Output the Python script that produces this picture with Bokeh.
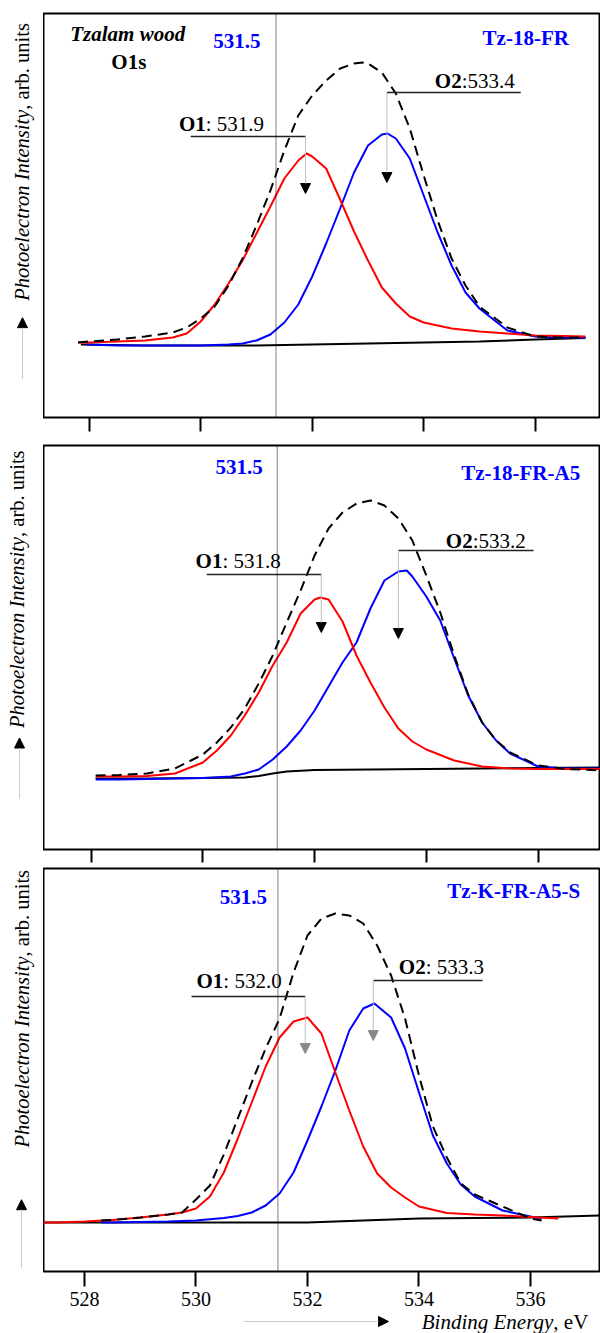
import math
from bokeh.plotting import figure
from bokeh.models import Label, Arrow, NormalHead, Span, FixedTicker, Range1d
from bokeh.layouts import column, row
from bokeh.embed import file_html
from bokeh.resources import INLINE

FONT = "Liberation Serif"
TICKS = [528, 530, 532, 534, 536]
REF_LINE = "531.5"
Y_TITLE = ("Photoelectron Intensity", ", arb. units")
X_TITLE = ("Binding Energy", ", eV")

# ---------------- Panel 1 : Tz-18-FR ----------------
p1_name = "Tz-18-FR"
p1_red_E = [527.8, 528.0, 528.5, 529.0, 529.5, 529.75, 530.0, 530.25, 530.5, 530.75, 531.0, 531.25, 531.5, 531.75, 531.9, 532.0, 532.25, 532.5, 532.75, 533.0, 533.25, 533.5, 533.75, 534.0, 534.5, 535.0, 535.5, 536.0, 536.5, 536.9]
p1_red_I = [75, 75, 76, 77, 80, 84, 96, 113, 134, 157, 184, 211, 239, 257, 264, 261, 249, 218, 186, 157, 130, 114, 101, 95, 89, 86, 84, 82, 81.5, 81]
p1_blue_E = [527.95, 528.5, 529.0, 529.5, 530.0, 530.5, 530.75, 531.0, 531.25, 531.5, 531.75, 532.0, 532.25, 532.5, 532.75, 533.0, 533.25, 533.35, 533.5, 533.75, 534.0, 534.25, 534.5, 534.75, 535.0, 535.5, 536.0, 536.5, 536.9]
p1_blue_I = [73, 72, 72, 72, 72, 73, 74, 77, 83, 95, 113, 141, 174, 209, 245, 272, 283, 284, 279, 259, 222, 185, 152, 125, 109, 87, 81, 80, 80]
p1_env_E = [527.8, 528.0, 528.5, 529.0, 529.5, 529.75, 530.0, 530.25, 530.5, 530.75, 531.0, 531.25, 531.5, 531.75, 532.0, 532.25, 532.5, 532.75, 532.9, 533.0, 533.25, 533.5, 533.75, 534.0, 534.25, 534.5, 534.75, 535.0, 535.5, 536.0, 536.5, 536.9]
p1_env_I = [75, 76, 78, 81, 85, 90, 99, 111, 132, 159, 192, 227, 267, 302, 322, 337, 349, 354, 355, 354, 345, 324, 289, 242, 197, 159, 132, 111, 90, 81, 80, 80]
p1_base_E = [527.85, 529.0, 530.0, 531.0, 532.0, 533.0, 534.0, 535.0, 536.0, 536.9]
p1_base_I = [73, 72, 72, 72, 73, 74, 75, 76, 78, 79.5]
p1_O1 = "531.9"
p1_O2 = "533.4"

# ---------------- Panel 2 : Tz-18-FR-A5 ----------------
p2_name = "Tz-18-FR-A5"
p2_red_E = [528.08, 528.5, 529.0, 529.5, 530.0, 530.25, 530.5, 530.75, 531.0, 531.25, 531.5, 531.75, 532.0, 532.1, 532.25, 532.5, 532.75, 533.0, 533.25, 533.5, 533.75, 534.0, 534.5, 535.0, 535.5, 536.0, 536.5, 537.2]
p2_red_I = [73, 73, 73.5, 76, 87, 99, 114, 134, 157, 184, 207, 236, 250, 252, 250, 228, 194, 167, 142, 121, 108, 100, 89, 83, 81, 80.5, 80.5, 80.5]
p2_blue_E = [528.08, 528.5, 529.0, 529.5, 530.0, 530.5, 530.75, 531.0, 531.25, 531.5, 531.75, 532.0, 532.25, 532.5, 532.75, 533.0, 533.25, 533.5, 533.65, 533.75, 534.0, 534.25, 534.5, 534.75, 535.0, 535.25, 535.5, 536.0, 536.5, 537.2]
p2_blue_I = [70, 70, 70.5, 71, 71.5, 73, 76, 80, 90, 103, 119, 139, 163, 187, 207, 241, 269, 278, 279, 273, 253, 229, 191, 154, 127, 109, 96, 83, 81, 81]
p2_env_E = [528.08, 528.5, 529.0, 529.5, 530.0, 530.25, 530.5, 530.75, 531.0, 531.25, 531.5, 531.75, 532.0, 532.25, 532.5, 532.75, 533.0, 533.25, 533.5, 533.75, 534.0, 534.25, 534.5, 534.75, 535.0, 535.25, 535.5, 536.0, 536.5, 537.2]
p2_env_I = [74, 74.5, 76, 81, 95, 107, 122, 141, 166, 194, 227, 259, 294, 321, 337, 346, 349, 344, 331, 309, 274, 237, 194, 155, 127, 109, 97, 84, 80.5, 79]
p2_base_E = [528.08, 529.0, 530.0, 530.75, 531.0, 531.25, 531.5, 532.0, 533.0, 534.0, 535.0, 536.0, 537.2]
p2_base_I = [71, 71, 71.5, 72, 73.5, 76, 78, 79.5, 80, 80.5, 81, 81.5, 82]
p2_O1 = "531.8"
p2_O2 = "533.2"

# ---------------- Panel 3 : Tz-K-FR-A5-S ----------------
p3_name = "Tz-K-FR-A5-S"
p3_red_E = [527.25, 527.5, 528.0, 528.5, 529.0, 529.5, 529.75, 530.0, 530.25, 530.5, 530.75, 531.0, 531.25, 531.5, 531.75, 532.0, 532.25, 532.5, 532.75, 533.0, 533.25, 533.5, 533.75, 534.0, 534.5, 535.0, 535.5, 536.0, 536.5]
p3_red_I = [51, 51, 52, 53.5, 56, 59, 61, 65, 77, 101, 135, 171, 207, 236, 252, 256, 240, 201, 163, 127, 100, 86, 76, 67, 60.5, 59, 58, 56.5, 55]
p3_blue_E = [528.3, 528.5, 529.0, 529.5, 530.0, 530.5, 530.75, 531.0, 531.25, 531.5, 531.75, 532.0, 532.25, 532.5, 532.75, 533.0, 533.2, 533.5, 533.75, 534.0, 534.25, 534.5, 534.75, 535.0, 535.5, 536.0, 536.2]
p3_blue_I = [51, 51, 51.5, 52, 53, 55.5, 57.5, 61, 68, 80, 101, 133, 167, 203, 243, 265, 270, 256, 225, 181, 138, 110, 89, 77, 63, 57, 55]
p3_env_E = [528.3, 528.5, 529.0, 529.5, 529.75, 530.0, 530.25, 530.5, 530.75, 531.0, 531.25, 531.5, 531.75, 532.0, 532.25, 532.5, 532.75, 533.0, 533.25, 533.5, 533.75, 534.0, 534.25, 534.5, 534.75, 535.0, 535.5, 536.0, 536.2]
p3_env_I = [53, 53.5, 56, 59, 61, 74, 88, 119, 155, 191, 225, 255, 301, 338, 355, 360, 358, 350, 328, 298, 255, 198, 147, 116, 90, 79, 67, 55, 53]
p3_base_E = [527.25, 528.0, 529.0, 530.0, 531.0, 532.0, 533.0, 534.0, 535.0, 536.0, 537.24]
p3_base_I = [51, 51, 51, 51, 51, 51, 53, 55, 55.5, 56, 58]
p3_O1 = "532.0"
p3_O2 = "533.3"

# Layout / annotation placement per panel
PANELS = [
    dict(name=p1_name, E=(p1_red_E, p1_blue_E, p1_env_E, p1_base_E), I=(p1_red_I, p1_blue_I, p1_env_I, p1_base_I),
         o1=p1_O1, o2=p1_O2, sep1=": ", sep2=":",
         h=441, top=13, bottom=24, xr=(527.180, 537.153), yr=(0, 404), tick_out=14, labels=False,
         ref_x=531.35, ref_lbl=(530.65, 377), name_lbl=(535.83, 380),
         o1_lbl=(530.09, 294), o1_lead=(529.82, 531.88, 281), o1_arrow=(531.88, 281, 224),
         o2_lbl=(534.68, 337), o2_lead=(533.34, 535.74, 325), o2_arrow=(533.34, 325, 235),
         strip_y=(-24, 417), ylab=(21, 312), yarrow=(22, 18, 85), head="black"),
    dict(name=p2_name, E=(p2_red_E, p2_blue_E, p2_env_E, p2_base_E), I=(p2_red_I, p2_blue_I, p2_env_I, p2_base_I),
         o1=p2_O1, o2=p2_O2, sep1=": ", sep2=":",
         h=424, top=4, bottom=16, xr=(527.146, 537.101), yr=(0, 404), tick_out=13, labels=False,
         ref_x=531.33, ref_lbl=(530.65, 383), name_lbl=(535.69, 377),
         o1_lbl=(530.35, 289), o1_lead=(530.07, 532.12, 275), o1_arrow=(532.12, 275, 217),
         o2_lbl=(534.83, 309), o2_lead=(533.50, 535.92, 299), o2_arrow=(533.50, 299, 211),
         strip_y=(-16, 408), ylab=(16, 312), yarrow=(19, 37, 101), head="black"),
    dict(name=p3_name, E=(p3_red_E, p3_blue_E, p3_env_E, p3_base_E), I=(p3_red_I, p3_blue_I, p3_env_I, p3_base_I),
         o1=p3_O1, o2=p3_O2, sep1=": ", sep2=": ",
         h=449, top=3, bottom=43, xr=(527.265, 537.238), yr=(2, 405), tick_out=15, labels=True,
         ref_x=531.47, ref_lbl=(530.85, 377), name_lbl=(535.70, 383),
         o1_lbl=(530.49, 293), o1_lead=(529.92, 531.96, 277), o1_arrow=(531.96, 277, 220),
         o2_lbl=(534.12, 307), o2_lead=(533.18, 535.14, 293), o2_arrow=(533.18, 293, 233),
         strip_y=(-41, 408), ylab=(21, 310), yarrow=(21, -37, 39), head="#888888"),
]


def lbl(p, x, y, text, size="21px", style="normal", color="black", align="left", angle=0.0):
    p.add_layout(Label(x=x, y=y, text=text, text_font=FONT, text_font_size=size,
                       text_font_style=style, text_color=color, text_align=align,
                       text_baseline="alphabetic", angle=angle))


def arrow(p, x0, y0, x1, y1, head_color="black", line_color="#bdbdbd"):
    p.add_layout(Arrow(end=NormalHead(size=10, fill_color=head_color, line_color=head_color, line_width=1),
                       x_start=x0, y_start=y0, x_end=x1, y_end=y1,
                       line_color=line_color, line_width=1))


def blank(width, height, xr, yr):
    s = figure(width=width, height=height, x_range=Range1d(*xr), y_range=Range1d(*yr),
               output_backend="svg", toolbar_location=None, x_axis_location=None,
               y_axis_location=None, min_border_left=0, min_border_right=0,
               min_border_top=0, min_border_bottom=0)
    s.grid.visible = False
    s.outline_line_color = None
    s.background_fill_color = "white"
    s.border_fill_color = "white"
    return s


rows = []
for k, c in enumerate(PANELS):
    p = figure(width=557, height=c["h"], x_range=Range1d(*c["xr"]), y_range=Range1d(*c["yr"]),
               output_backend="svg", toolbar_location=None, y_axis_location=None,
               min_border_left=0, min_border_right=1, min_border_top=c["top"],
               min_border_bottom=c["bottom"])
    p.grid.visible = False
    p.outline_line_color = "black"
    p.outline_line_width = 2
    p.background_fill_color = "white"
    p.border_fill_color = "white"
    ax = p.xaxis[0]
    ax.ticker = FixedTicker(ticks=TICKS)
    ax.axis_line_color = None
    ax.major_tick_line_width = 2
    ax.major_tick_line_color = "black"
    ax.major_tick_in = 0
    ax.major_tick_out = c["tick_out"]
    ax.minor_tick_line_color = None
    if c["labels"]:
        ax.major_label_text_font = FONT
        ax.major_label_text_font_size = "20px"
        ax.major_label_text_color = "black"
        ax.major_label_standoff = 5
    else:
        ax.major_label_text_color = None
        ax.major_label_standoff = 0

    (rE, bE, eE, gE), (rI, bI, eI, gI) = c["E"], c["I"]
    p.line(gE, gI, line_color="black", line_width=2)
    p.line(bE, bI, line_color="#0000ff", line_width=2)
    p.line(rE, rI, line_color="#ff0000", line_width=2)
    p.line(eE, eI, line_color="black", line_width=2, line_dash="10 6")

    p.add_layout(Span(location=c["ref_x"], dimension="height", line_color="black",
                      line_width=1, line_dash="1 1"))

    lbl(p, *c["ref_lbl"], REF_LINE, style="bold", color="#0000ff", align="center")
    lbl(p, *c["name_lbl"], c["name"], style="bold", color="#0000ff", align="center")
    if k == 0:
        lbl(p, 528.69, 384, "Tzalam wood", style="bold italic", align="center")
        lbl(p, 528.71, 356, "O1s", style="bold", align="center")

    x, y = c["o1_lbl"]
    lbl(p, x, y, "O1", style="bold", align="right")
    lbl(p, x, y, c["sep1"] + c["o1"], align="left")
    x, y = c["o2_lbl"]
    lbl(p, x, y, "O2", style="bold", align="right")
    lbl(p, x, y, c["sep2"] + c["o2"], align="left")
    x0, x1, y = c["o1_lead"]
    p.segment(x0=[x0], y0=[y], x1=[x1], y1=[y], line_color="#222222", line_width=1.5)
    x0, x1, y = c["o2_lead"]
    p.segment(x0=[x0], y0=[y], x1=[x1], y1=[y], line_color="#222222", line_width=1.5)
    x, y0, y1 = c["o1_arrow"]
    arrow(p, x, y0, x, y1, head_color=c["head"])
    x, y0, y1 = c["o2_arrow"]
    arrow(p, x, y0, x, y1, head_color=c["head"])

    # left strip holding the rotated y title and its arrow
    s = blank(43, c["h"], (0, 43), c["strip_y"])
    x, y = c["ylab"]
    lbl(s, x, y, Y_TITLE[0], size="20.5px", style="italic", align="right", angle=math.pi / 2)
    lbl(s, x, y, Y_TITLE[1], size="20.5px", align="left", angle=math.pi / 2)
    x, y0, y1 = c["yarrow"]
    arrow(s, x, y0, x, y1, head_color="black", line_color="#cccccc")

    rows.append(row(s, p, spacing=0))

# bottom strip with the x title (same energy scale as panel 3)
xs = blank(600, 19, (526.4933, 537.2555), (-60, -41))
lbl(xs, 536.41, -48, X_TITLE[0], style="italic", align="right")
lbl(xs, 536.41, -48, X_TITLE[1], align="left")
arrow(xs, 530.852, -48, 533.453, -48, head_color="black", line_color="#cccccc")

layout = column(*rows, xs, spacing=0)
open("out.html", "w").write(file_html(layout, INLINE))
